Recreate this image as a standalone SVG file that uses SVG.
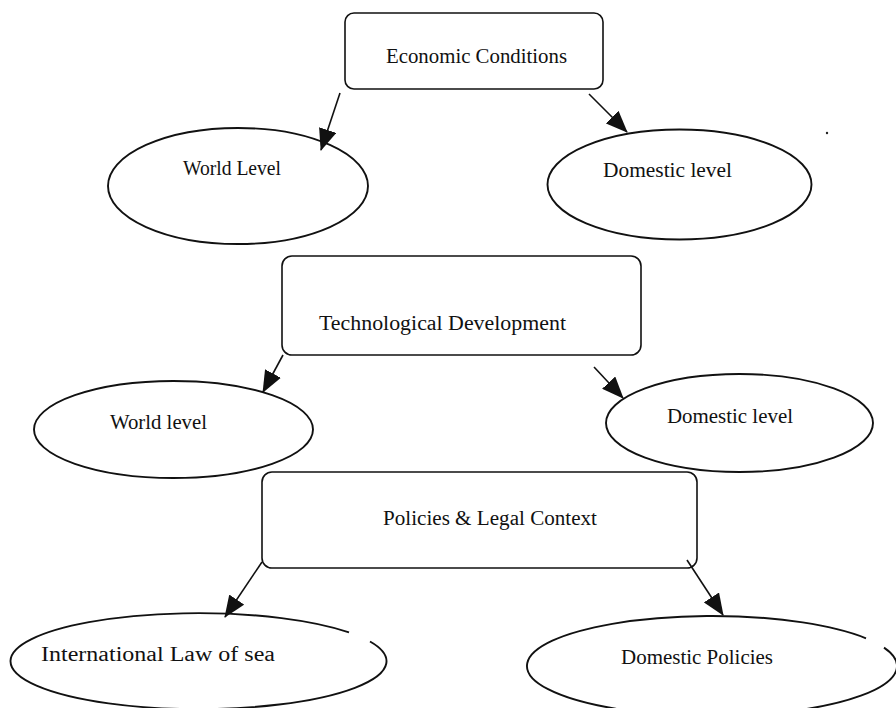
<svg xmlns="http://www.w3.org/2000/svg" width="896" height="708" viewBox="0 0 896 708">
  <style>
    .box { fill: #ffffff; stroke: #111111; stroke-width: 1.6; }
    .oval { fill: none; stroke: #111111; stroke-width: 1.9; }
    .lbl { font-family: "Liberation Serif", "Times New Roman", serif; font-size: 20.5px; fill: #111111; }
    .conn { stroke: #111111; stroke-width: 1.6; fill: none; marker-end: url(#head); }
  </style>
  <defs>
    <marker id="head" markerUnits="userSpaceOnUse" markerWidth="22" markerHeight="18" refX="21" refY="9" orient="auto">
      <path d="M0,0 L22,9 L0,18 Z" fill="#111111"/>
    </marker>
  </defs>
  <rect width="896" height="708" fill="#ffffff"/>

  <!-- Economic conditions branch -->
  <g id="economic-conditions">
    <rect class="box" x="345" y="13" width="258" height="76" rx="9"/>
    <text class="lbl" x="386" y="63" textLength="181" lengthAdjust="spacingAndGlyphs">Economic Conditions</text>
  </g>
  <g id="world-level-1">
    <ellipse class="oval" cx="238" cy="186" rx="130" ry="58"/>
    <text class="lbl" x="183" y="175" textLength="98" lengthAdjust="spacingAndGlyphs">World Level</text>
  </g>
  <g id="domestic-level-1">
    <ellipse class="oval" cx="679.5" cy="184.5" rx="132" ry="55"/>
    <text class="lbl" x="603" y="177" textLength="129" lengthAdjust="spacingAndGlyphs">Domestic level</text>
  </g>

  <!-- Technological development branch -->
  <g id="technological-development">
    <rect class="box" x="282" y="256" width="359" height="99" rx="10"/>
    <text class="lbl" x="319" y="330" textLength="247" lengthAdjust="spacingAndGlyphs">Technological Development</text>
  </g>
  <g id="world-level-2">
    <ellipse class="oval" cx="173.5" cy="429.5" rx="139.5" ry="48.5"/>
    <text class="lbl" x="110" y="429" textLength="97" lengthAdjust="spacingAndGlyphs">World level</text>
  </g>
  <g id="domestic-level-2">
    <ellipse class="oval" cx="739.5" cy="423" rx="133.5" ry="49"/>
    <text class="lbl" x="667" y="423" textLength="126" lengthAdjust="spacingAndGlyphs">Domestic level</text>
  </g>

  <!-- Policies and legal context branch -->
  <g id="policies-legal-context">
    <rect class="box" x="262" y="472" width="435" height="96" rx="10"/>
    <text class="lbl" x="383" y="525" textLength="214" lengthAdjust="spacingAndGlyphs">Policies &amp; Legal Context</text>
  </g>
  <g id="international-law-of-sea">
    <!-- outline with a short break on the upper right -->
    <path class="oval" d="M370,641.5 A188,48 0 1 1 349,632.4"/>
    <text class="lbl" x="41" y="661" textLength="234" lengthAdjust="spacingAndGlyphs">International Law of sea</text>
  </g>
  <g id="domestic-policies">
    <path class="oval" d="M884,647.6 A185,50 0 1 1 866,638.3"/>
    <text class="lbl" x="621" y="664" textLength="152" lengthAdjust="spacingAndGlyphs">Domestic Policies</text>
  </g>

  <!-- stray mark -->
  <circle cx="827" cy="133" r="1.2" fill="#222222"/>

  <g id="connectors">
    <line class="conn" x1="340" y1="93" x2="321" y2="150"/>
    <line class="conn" x1="589" y1="94" x2="627" y2="132"/>
    <line class="conn" x1="283" y1="355" x2="263" y2="392"/>
    <line class="conn" x1="594" y1="367" x2="623" y2="398"/>
    <line class="conn" x1="262" y1="562" x2="225" y2="617"/>
    <line class="conn" x1="687" y1="560" x2="723" y2="615"/>
  </g>
</svg>
